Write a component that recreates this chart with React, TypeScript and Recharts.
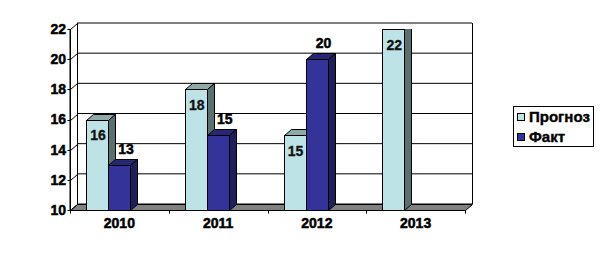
import React from "react";
import { BarChart, Bar, XAxis, YAxis, CartesianGrid, Legend, LabelList, usePlotArea } from "recharts";

const YEARS = ["2010", "2011", "2012", "2013"];
const FORECAST = [16, 18, 15, 22];
const ACTUAL: (number | null)[] = [13, 15, 20, null];
const Y_TICKS = [10, 12, 14, 16, 18, 20, 22];

const data = YEARS.map((year, i) => ({ year, forecast: FORECAST[i], actual: ACTUAL[i] }));

// 3D look: depth offset of the back wall and bar tops
const DX = 7;
const DY = 6;
const SHIFT = -11;
const FONT = "Arial, 'Liberation Sans', sans-serif";
const HEAVY = { stroke: "#000", strokeWidth: 0.5 };

const COLORS = {
  forecast: { front: "#BDE3E6", top: "#8FA8A8", side: "#5A7070" },
  actual: { front: "#333399", top: "#262673", side: "#1F1F5A" },
};

function Bar3D(props: any) {
  const { x, y, width, height, front, top, side } = props;
  if (x == null || height == null || height <= 0) return null;
  const x0 = Math.round(x + SHIFT) + 0.5;
  const x1 = x0 + Math.round(width);
  const y0 = Math.round(y) + 0.5;
  const y1 = Math.round(y + height) + 0.5;
  return (
    <g stroke="#000" strokeWidth={1}>
      <rect x={x0} y={y0} width={x1 - x0} height={y1 - y0} fill={front} />
      <polygon points={`${x0},${y0} ${x1},${y0} ${x1 + DX},${y0 - DY} ${x0 + DX},${y0 - DY}`} fill={top} />
      <polygon points={`${x1},${y0} ${x1 + DX},${y0 - DY} ${x1 + DX},${y1 - DY} ${x1},${y1}`} fill={side} />
    </g>
  );
}

function Frame() {
  const area = usePlotArea();
  if (!area) return null;
  const { x, y, width, height } = area;
  const b = y + height + 0.5;
  const l = x + 0.5;
  const r = x + width + 0.5;
  const n = YEARS.length;
  return (
    <g stroke="#000" strokeWidth={1}>
      <polygon points={`${l},${b} ${r},${b} ${r + DX},${b - DY} ${l + DX},${b - DY}`} fill="#808080" />
      <line x1={l} y1={y} x2={l} y2={b} />
      {Array.from({ length: n + 1 }, (_, i) => {
        const tx = Math.round(x + (i * width) / n) + 0.5;
        return <line key={i} x1={tx} y1={b} x2={tx} y2={b + 3} />;
      })}
    </g>
  );
}

function YTick(props: any) {
  const { x, y, payload } = props;
  const ax = x + 4.5;
  const yy = Math.round(y) + 0.5;
  return (
    <g>
      <line x1={ax} y1={yy} x2={ax + DX} y2={yy - DY} stroke="#000" />
      <line x1={ax - 3} y1={yy} x2={ax} y2={yy} stroke="#000" />
      <text x={x} y={y} dy="0.355em" textAnchor="end" fontFamily={FONT} fontWeight="bold" fontSize={14} fill="#000" {...HEAVY}>
        {payload.value}
      </text>
    </g>
  );
}

function XTick(props: any) {
  const { x, y, payload } = props;
  return (
    <text x={x} y={y} dy="0.71em" textAnchor="middle" fontFamily={FONT} fontWeight="bold" fontSize={14} fill="#000" {...HEAVY}>
      {payload.value}
    </text>
  );
}

function InsideLabel(props: any) {
  const { x, y, width, value } = props;
  if (value == null) return null;
  return (
    <text x={x + SHIFT + width / 2 + 1} y={y + 16} dy="0.355em" textAnchor="middle" fontFamily={FONT} fontWeight="bold" fontSize={14} fill="#111" stroke="#111" strokeWidth={0.3}>
      {value}
    </text>
  );
}

function TopLabel(props: any) {
  const { x, y, width, value } = props;
  if (value == null) return null;
  return (
    <text x={x + SHIFT + width / 2 + DX} y={y - 16} dy="0.355em" textAnchor="middle" fontFamily={FONT} fontWeight="bold" fontSize={14} fill="#000" {...HEAVY}>
      {value}
    </text>
  );
}

function LegendBox() {
  const items = [
    { name: "Прогноз", color: COLORS.forecast.front },
    { name: "Факт", color: COLORS.actual.front },
  ];
  return (
    <div style={{ border: "1px solid #000", width: 79, height: 39, padding: "0", boxSizing: "content-box", background: "#fff" }}>
      {items.map((it) => (
        <div key={it.name} style={{ display: "flex", alignItems: "center", height: 20, paddingLeft: 3, fontFamily: FONT, fontWeight: "bold", fontSize: 15, lineHeight: "20px", whiteSpace: "nowrap", WebkitTextStroke: "0.4px #000" }}>
          <span style={{ display: "inline-block", width: 6, height: 6, border: "1px solid #000", background: it.color, marginRight: 4 }} />
          {it.name}
        </div>
      ))}
    </div>
  );
}

export default function App() {
  return (
    <div style={{ position: "absolute", left: 0, top: 0, width: 605, height: 253, background: "#fff" }}>
      <style>{`.recharts-cartesian-grid { transform: translate(${DX}px, ${-DY}px); }`}</style>
      <BarChart width={605} height={253} data={data} margin={{ top: 29, right: 59, bottom: 13, left: 30 }} barGap={0} barSize={22}>
        <CartesianGrid
          stroke="#000"
          strokeOpacity={1}
          verticalCoordinatesGenerator={({ offset }: any) => [offset.left + 0.5, offset.left + offset.width + 0.5]}
        />
        <Frame />
        <XAxis
          dataKey="year"
          axisLine={false}
          tickLine={false}
          tickSize={0}
          tickMargin={8}
          height={30}
          tick={<XTick />}
        />
        <YAxis
          domain={[10, 22]}
          ticks={Y_TICKS}
          width={40}
          tickSize={3}
          tickMargin={1}
          tickLine={false}
          axisLine={{ stroke: "#000" }}
          tick={<YTick />}
          allowDataOverflow
        />
        <Legend
          layout="vertical"
          align="right"
          verticalAlign="middle"
          content={<LegendBox />}
          wrapperStyle={{ left: 513, top: 106, width: 81 }}
        />
        <Bar dataKey="forecast" name="Прогноз" isAnimationActive={false} shape={(p: any) => <Bar3D {...p} {...COLORS.forecast} />}>
          <LabelList dataKey="forecast" content={<InsideLabel />} />
        </Bar>
        <Bar dataKey="actual" name="Факт" isAnimationActive={false} shape={(p: any) => <Bar3D {...p} {...COLORS.actual} />}>
          <LabelList dataKey="actual" content={<TopLabel />} />
        </Bar>
      </BarChart>
    </div>
  );
}
